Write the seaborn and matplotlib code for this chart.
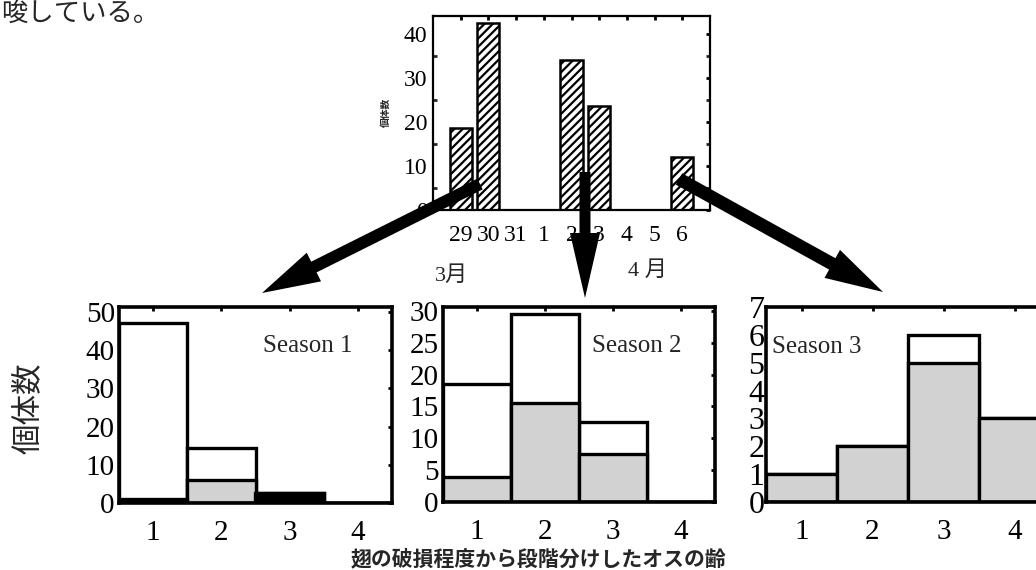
import matplotlib
matplotlib.use("Agg")
import matplotlib.pyplot as plt
import matplotlib.patches as mpatches
from matplotlib.transforms import IdentityTransform
from matplotlib.ticker import MultipleLocator
import seaborn as sns
import pandas as pd

W, H = 1036, 570

# 上段: 日ごとの個体数 (3月29日〜4月6日)
dias = ["29", "30", "31", "1", "2", "3", "4", "5", "6"]
conteo_dia = [18.5, 42.5, 0, 0, 34, 23.5, 0, 0, 12]

# 下段: 齢ごとの個体数 (白 = 合計, 灰 = 内訳, 黒 = 内訳)
etapas = ["1", "2", "3", "4"]
total_s1 = [47, 14.5, 2.5, 0]
gris_s1 = [0, 6, 0, 0]
negro_s1 = [1, 0, 2.5, 0]
total_s2 = [18.5, 29.5, 12.5, 0]
gris_s2 = [4, 15.5, 7.5, 0]
negro_s2 = [0, 0, 0, 0]
total_s3 = [1, 2, 6, 3]
gris_s3 = [1, 2, 5, 3]
negro_s3 = [0, 0, 0, 0]

sns.set_theme(style="white")
plt.rcParams["font.family"] = ["Liberation Serif", "Noto Sans CJK JP", "DejaVu Sans"]
plt.rcParams["hatch.linewidth"] = 1.6

fig = plt.figure(figsize=(W / 100, H / 100), dpi=100)


def caja(l, t, r, b):
    # ejes a partir de un rectangulo en pixeles
    return fig.add_axes([l / W, 1 - b / H, (r - l) / W, (b - t) / H])


def marco(ax, grosor):
    for s in ax.spines.values():
        s.set_linewidth(grosor)
        s.set_color("black")
        s.set_visible(True)
    ax.tick_params(direction="in", length=3, width=2, top=True, right=True,
                   colors="black")
    ax.set_xlabel("")
    ax.set_ylabel("")


# ---- grafico de arriba ----
ax0 = caja(433, 16, 710, 210)
df0 = pd.DataFrame({"dia": dias, "n": conteo_dia})
sns.barplot(data=df0, x="dia", y="n", order=dias, color="white", saturation=1,
            edgecolor="black", linewidth=1.8, width=0.8, hatch="////",
            errorbar=None, ax=ax0)
ax0.set_xlim(-1, 9)
ax0.set_ylim(0, 44)
ax0.set_yticks([0, 10, 20, 30, 40])
ax0.yaxis.set_minor_locator(MultipleLocator(5))
marco(ax0, 1.6)
ax0.tick_params(axis="x", pad=11, labelsize=17)
ax0.tick_params(axis="y", pad=4, labelsize=17)
ax0.tick_params(which="minor", direction="in", length=3, width=2, left=True, right=True)
fig.text(386 / W, 1 - 112 / H, "個体数", rotation=90, fontsize=7, fontweight="bold",
         ha="center", va="center", family=["Noto Sans CJK JP"])
fig.text(452 / W, 1 - 276 / H, "3月", fontsize=16, ha="center", va="center")
fig.text(647 / W, 1 - 271 / H, "4 月", fontsize=16, ha="center", va="center")

# ---- paneles de abajo ----
paneles = [
    ((119, 307, 392, 503), total_s1, gris_s1, negro_s1, 51.3, [0, 10, 20, 30, 40, 50],
     "Season 1", (308, 346), "center"),
    ((443, 307, 715, 502), total_s2, gris_s2, negro_s2, 30.6, [0, 5, 10, 15, 20, 25, 30],
     "Season 2", (637, 346), "center"),
    ((766, 307, 1050, 502), total_s3, gris_s3, negro_s3, 7.0, [0, 1, 2, 3, 4, 5, 6, 7],
     "Season 3", (772, 347), "left"),
]

for rect, tot, gri, neg, ytop, yt, nombre, pos, alin in paneles:
    ax = caja(*rect)
    df = pd.DataFrame({"etapa": etapas, "total": tot, "gris": gri, "negro": neg})
    sns.barplot(data=df, x="etapa", y="total", order=etapas, color="white",
                saturation=1, edgecolor="black", linewidth=2.4, width=1.0,
                errorbar=None, ax=ax)
    sns.barplot(data=df, x="etapa", y="gris", order=etapas, color="#d2d2d2",
                saturation=1, edgecolor="black", linewidth=2.4, width=1.0,
                errorbar=None, ax=ax)
    sns.barplot(data=df, x="etapa", y="negro", order=etapas, color="black",
                saturation=1, edgecolor="black", linewidth=2.4, width=1.0,
                errorbar=None, ax=ax)
    ax.set_xlim(-0.5, 3.5)
    ax.set_ylim(0, ytop)
    ax.set_yticks(yt)
    marco(ax, 2.6)
    ax.tick_params(axis="x", pad=12, labelsize=21)
    ax.tick_params(axis="y", pad=3 if ytop > 8 else 1, labelsize=21 if ytop > 8 else 23)
    fig.text(pos[0] / W, 1 - pos[1] / H, nombre, fontsize=18, ha=alin, va="center")

fig.text(28 / W, 1 - 408 / H, "個体数", rotation=90, fontsize=22, ha="center",
         va="center", family=["Noto Sans CJK JP"])
fig.text(539 / W, 1 - 559 / H, "翅の破損程度から段階分けしたオスの齢", fontsize=15,
         fontweight="bold", ha="center", va="center", family=["Noto Sans CJK JP"])
fig.text(1 / W, 1 - 13 / H, "唆している。", fontsize=19, ha="left", va="center",
         family=["Noto Sans CJK JP"])


# ---- flechas ----
def flecha(x0, y0, x1, y1, ancho, cab_ancho, cab_largo):
    a = mpatches.FancyArrow(x0, H - y0, x1 - x0, -(y1 - y0), width=ancho,
                            head_width=cab_ancho, head_length=cab_largo,
                            length_includes_head=True, color="black", lw=0,
                            transform=IdentityTransform(), zorder=5)
    fig.add_artist(a)


flecha(480, 184, 262, 293, 12, 32, 58)
flecha(585, 172, 585, 298, 11, 30, 65)
flecha(679, 179, 883, 292, 13, 32, 58)

fig.savefig("out.png", dpi=100)
